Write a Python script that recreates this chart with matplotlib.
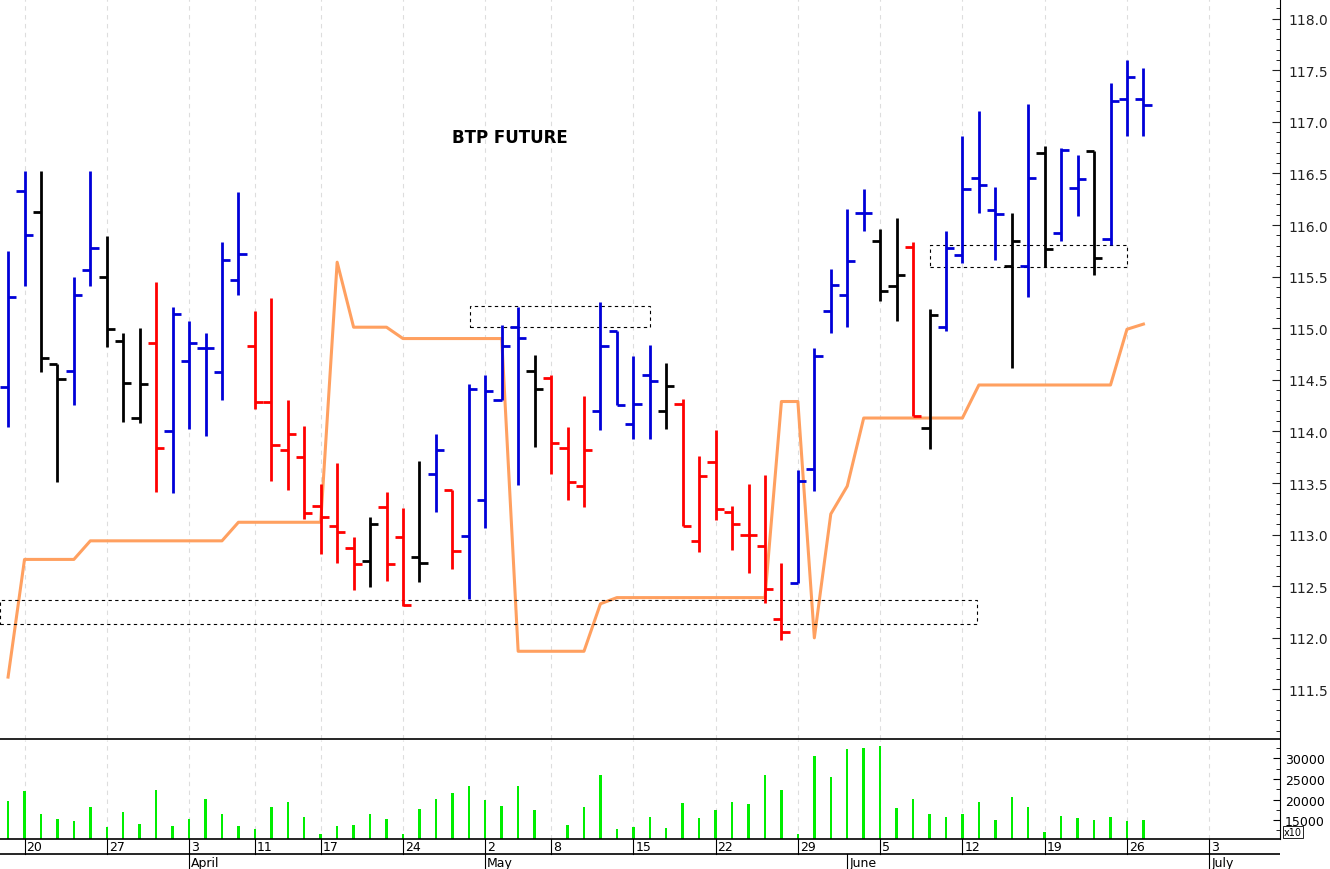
import matplotlib
matplotlib.use("Agg")
import matplotlib.pyplot as plt
from matplotlib.patches import Rectangle
from matplotlib.ticker import MultipleLocator

# OHLC per trading day (index 0..69), colour code b=blue r=red k=black
opens = [114.43, 116.33, 116.13, 114.65, 114.59, 115.56, 115.50, 114.88, 114.13, 114.86,
         114.00, 114.68, 114.81, 114.58, 115.47, 114.83, 114.29, 113.82, 113.75, 113.28,
         113.08, 112.87, 112.74, 113.27, 112.98, 112.78, 113.59, 113.43, 112.99, 113.34,
         114.30, 115.01, 114.59, 114.52, 113.84, 113.47, 114.20, 114.97, 114.07, 114.55,
         114.20, 114.27, 112.94, 113.70, 113.22, 113.00, 112.89, 112.18, 112.53, 113.64,
         115.17, 115.32, 116.12, 115.85, 115.41, 115.79, 114.03, 115.01, 115.71, 116.46,
         116.15, 115.60, 115.60, 116.70, 115.92, 116.36, 116.72, 115.86, 117.22, 117.22]
highs = [115.75, 116.52, 116.52, 114.65, 115.50, 116.52, 115.89, 114.95, 115.00, 115.45,
         115.21, 115.07, 114.95, 115.84, 116.32, 115.17, 115.29, 114.30, 114.05, 113.49,
         113.69, 112.98, 113.17, 113.41, 113.26, 113.71, 113.98, 113.43, 114.46, 114.55,
         115.03, 115.21, 114.74, 114.55, 114.04, 114.34, 115.25, 114.97, 114.73, 114.84,
         114.66, 114.31, 113.76, 114.01, 113.28, 113.49, 113.58, 112.73, 113.63, 114.81,
         115.57, 116.16, 116.35, 115.96, 116.07, 115.84, 115.19, 115.94, 116.86, 117.10,
         116.37, 116.12, 117.17, 116.77, 116.75, 116.68, 116.72, 117.38, 117.60, 117.52]
lows = [114.04, 115.41, 114.58, 113.51, 114.26, 115.41, 114.82, 114.09, 114.08, 113.41,
        113.40, 114.02, 113.96, 114.30, 115.32, 114.22, 113.52, 113.43, 113.15, 112.81,
        112.73, 112.46, 112.49, 112.55, 112.31, 112.54, 113.22, 112.67, 112.38, 113.06,
        114.30, 113.48, 113.85, 113.59, 113.34, 113.27, 114.01, 114.26, 113.93, 113.93,
        114.02, 113.08, 112.83, 113.14, 112.85, 112.63, 112.34, 111.98, 112.53, 113.42,
        114.95, 115.01, 115.94, 115.26, 115.07, 114.15, 113.83, 114.97, 115.63, 116.12,
        115.66, 114.61, 115.30, 115.59, 115.85, 116.09, 115.52, 115.81, 116.86, 116.86]
closes = [115.30, 115.90, 114.71, 114.51, 115.32, 115.78, 114.99, 114.47, 114.46, 113.84,
          115.14, 114.86, 114.81, 115.66, 115.72, 114.29, 113.87, 113.98, 113.21, 113.17,
          113.03, 112.72, 113.10, 112.72, 112.32, 112.73, 113.82, 112.84, 114.41, 114.39,
          114.83, 114.91, 114.41, 113.89, 113.51, 113.82, 114.83, 114.26, 114.27, 114.49,
          114.44, 113.08, 113.57, 113.25, 113.10, 113.00, 112.47, 112.06, 113.52, 114.73,
          115.42, 115.65, 116.12, 115.36, 115.52, 114.15, 115.13, 115.78, 116.35, 116.39,
          116.11, 115.85, 116.46, 115.77, 116.73, 116.45, 115.68, 117.20, 117.43, 117.16]
bar_colors = list("bbkkbbkkkrbbbbbrrrrrrrkrrkbrbbbbkrrrbbbbkrrrrrrrbb"
                  "bbbkkrkbbbbkbkbbkbbb")

stop_line = [111.62, 112.76, 112.76, 112.76, 112.76, 112.94, 112.94, 112.94, 112.94, 112.94,
             112.94, 112.94, 112.94, 112.94, 113.12, 113.12, 113.12, 113.12, 113.12, 113.12,
             115.64, 115.01, 115.01, 115.01, 114.90, 114.90, 114.90, 114.90, 114.90, 114.90,
             114.90, 111.87, 111.87, 111.87, 111.87, 111.87, 112.33, 112.39, 112.39, 112.39,
             112.39, 112.39, 112.39, 112.39, 112.39, 112.39, 112.39, 114.29, 114.29, 112.00,
             113.20, 113.47, 114.13, 114.13, 114.13, 114.13, 114.13, 114.13, 114.13, 114.45,
             114.45, 114.45, 114.45, 114.45, 114.45, 114.45, 114.45, 114.45, 114.99, 115.04]

volumes = [19700, 22200, 16600, 15200, 14800, 18100, 13400, 16900, 14000, 22400,
           13500, 15200, 20200, 16400, 13500, 12900, 18100, 19400, 15700, 11500,
           13500, 13800, 16400, 15200, 11700, 17600, 20100, 21600, 23400, 19800,
           18500, 23200, 17500, 10300, 13800, 18100, 26100, 12900, 13400, 15700,
           13000, 19100, 15400, 17500, 19400, 18800, 25900, 22400, 11500, 30500,
           25500, 32300, 32500, 33000, 17900, 20200, 16600, 15700, 16500, 19400,
           15000, 20600, 18100, 12100, 16000, 15400, 15000, 15700, 14800, 15000]

# date axis: (bar index, label)
day_ticks = [1, 6, 11, 15, 19, 24, 29, 33, 38, 43, 48, 53, 58, 63, 68, 73]
day_labels = ["20", "27", "3", "11", "17", "24", "2", "8", "15", "22", "29", "5",
              "12", "19", "26", "3"]
month_ticks = [11, 29, 51, 73]
month_labels = ["April", "May", "June", "July"]

# dashed boxes: (x0, x1, y0, y1)
boxes = [(-0.5, 58.9, 112.13, 112.37), (28.1, 39.0, 115.01, 115.22), (56.0, 68.0, 115.59, 115.81)]

COLORS = {"b": "#0000d8", "r": "#ff0000", "k": "#000000"}
XMIN, XMAX = -0.49, 77.3

fig = plt.figure(figsize=(13.3, 8.7), dpi=100)
ax = fig.add_axes([0, 130 / 870, 1280 / 1330, 740 / 870])
axv = fig.add_axes([0, 30 / 870, 1280 / 1330, 99 / 870])
axd = fig.add_axes([0, 0, 1280 / 1330, 30 / 870])

for a in (ax, axv):
    for t in day_ticks:
        a.axvline(t, color="#dddddd", lw=0.8, ls=(0, (4, 4)), zorder=0)

for i in range(len(opens)):
    c = COLORS[bar_colors[i]]
    ax.plot([i, i], [lows[i], highs[i]], color=c, lw=2.0, solid_capstyle="butt")
    ax.plot([i - 0.5, i], [opens[i], opens[i]], color=c, lw=2.0, solid_capstyle="butt")
    ax.plot([i, i + 0.5], [closes[i], closes[i]], color=c, lw=2.0, solid_capstyle="butt")

ax.plot(range(len(stop_line)), stop_line, color="#ffa060", lw=2.2, zorder=1)

for x0, x1, y0, y1 in boxes:
    ax.add_patch(Rectangle((x0, y0), x1 - x0, y1 - y0, fill=False, ec="black",
                           lw=0.8, ls=(0, (3, 3))))

ax.text(30.5, 116.85, "BTP FUTURE", fontsize=12, fontweight="bold", ha="center", va="center")

ax.set_xlim(XMIN, XMAX)
ax.set_ylim(111.02, 118.19)
ax.yaxis.tick_right()
ax.yaxis.set_major_locator(MultipleLocator(0.5))
ax.yaxis.set_minor_locator(MultipleLocator(0.1))
ax.yaxis.set_major_formatter(matplotlib.ticker.FormatStrFormatter("%.1f"))
ax.tick_params(axis="y", which="major", length=6, labelsize=10, colors="#222222", direction="in", pad=6)
ax.tick_params(axis="y", which="minor", length=3, direction="in")
ax.set_xticks([])
for s in ("top", "left"):
    ax.spines[s].set_visible(False)
ax.spines["bottom"].set_linewidth(1.2)

axv.bar(range(len(volumes)), volumes, width=0.15, color="#00ee00", bottom=0)
axv.set_xlim(XMIN, XMAX)
axv.set_ylim(10400, 34500)
axv.yaxis.tick_right()
axv.set_yticks([15000, 20000, 25000, 30000])
axv.yaxis.set_minor_locator(MultipleLocator(2500))
axv.tick_params(axis="y", which="major", length=5, labelsize=9, direction="in")
axv.tick_params(axis="y", which="minor", length=3, direction="in")
axv.set_xticks([])
for s in ("top", "left"):
    axv.spines[s].set_visible(False)
axv.spines["bottom"].set_linewidth(1.2)
axv.text(1.003, 0.02, "x10", transform=axv.transAxes, fontsize=7, va="bottom",
         bbox=dict(boxstyle="square,pad=0.1", fc="white", ec="black", lw=0.6))

axd.set_xlim(XMIN, XMAX)
axd.set_ylim(0, 2)
axd.axis("off")
axd.axhline(1, color="black", lw=1.2)
for t, lab in zip(day_ticks, day_labels):
    axd.plot([t, t], [1, 2], color="black", lw=0.8)
    axd.text(t + 0.12, 1.5, lab, fontsize=9, va="center", ha="left")
for t, lab in zip(month_ticks, month_labels):
    axd.plot([t, t], [0, 1], color="black", lw=0.8)
    axd.text(t + 0.12, 0.45, lab, fontsize=9, va="center", ha="left")

fig.savefig("out.png", dpi=100)
